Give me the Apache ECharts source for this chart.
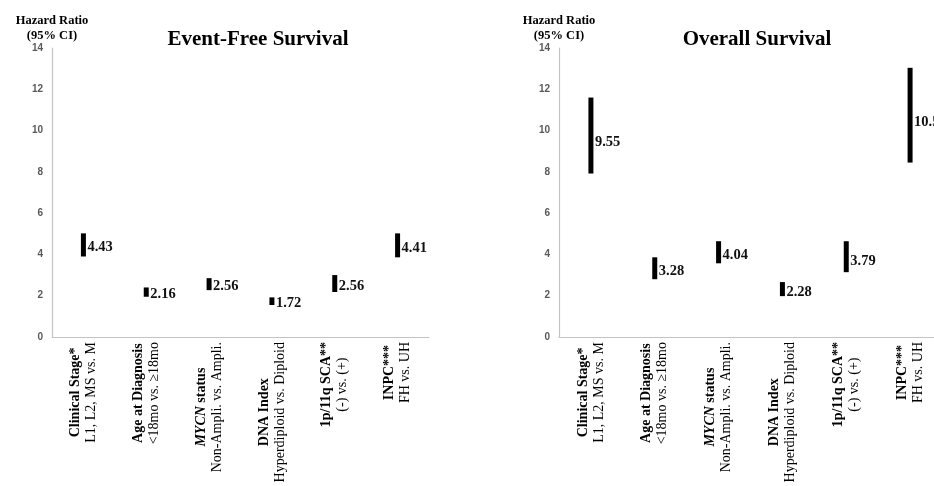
<!DOCTYPE html>
<html>
<head>
<meta charset="utf-8">
<script src="https://cdn.jsdelivr.net/npm/echarts@6/dist/echarts.min.js"></script>
<style>
html,body{margin:0;padding:0;background:#fff;overflow:hidden;}
/* the reference is cropped on the right, so the canvas runs past the window */
#chart{width:960px;height:486px;}
</style>
</head>
<body>
<div id="chart"></div>
<script>
// categories (bold first line / regular second line)
var catTitle = ['Clinical Stage*', 'Age at Diagnosis', 'MYCN status', 'DNA Index', '1p/11q SCA**', 'INPC***'];
var catDetail = ['L1, L2, MS vs. M', '<18mo vs. \u226518mo', 'Non-Ampli. vs. Ampli.', 'Hyperdiploid vs. Diploid', '(-) vs. (+)', 'FH vs. UH'];

// event-free survival: hazard ratio and 95% CI
var efsHR = [4.43, 2.16, 2.56, 1.72, 2.56, 4.41];
var efsLow = [3.90, 1.95, 2.27, 1.55, 2.18, 3.86];
var efsHigh = [5.02, 2.40, 2.85, 1.92, 3.00, 5.02];

// overall survival
var osHR = [9.55, 3.28, 4.04, 2.28, 3.79, 10.5];
var osLow = [7.92, 2.80, 3.57, 1.98, 3.14, 8.45];
var osHigh = [11.60, 3.86, 4.64, 2.66, 4.64, 13.04];

var yTicks = {min: 0, max: 14, interval: 2};

var serif = "'Liberation Serif','Times New Roman',serif";
var chart = echarts.init(document.getElementById('chart'));

function toData(hr, low, high) {
	var d = [];
	for (var i = 0; i < hr.length; i++) {
		d.push([i, low[i], high[i], hr[i]]);
	}
	return d;
}

function catLabel(v, i) {
	var t = catTitle[i];
	var first;
	if (t.indexOf('MYCN') === 0) {
		first = '{bi|MYCN}{b|' + t.substring(4) + '}';
	} else {
		first = '{b|' + t + '}';
	}
	return first + '\n{r|' + catDetail[i] + '}';
}

function renderItem(params, api) {
	var idx = api.value(0);
	var top = api.coord([idx, api.value(2)]);
	var bot = api.coord([idx, api.value(1)]);
	var mid = api.coord([idx, api.value(3)]);
	return {
		type: 'group',
		children: [{
			type: 'rect',
			shape: {x: top[0] - 2.5, y: top[1], width: 5, height: bot[1] - top[1]},
			style: {fill: '#000'}
		}, {
			type: 'text',
			x: top[0] + 4,
			y: mid[1] + 2,
			style: {
				text: api.value(3).toFixed(2),
				fill: '#111',
				font: 'bold 14.5px ' + serif,
				textAlign: 'left',
				textVerticalAlign: 'middle'
			}
		}]
	};
}

function xAxisOpt(gi) {
	return {
		type: 'category',
		gridIndex: gi,
		data: catTitle,
		axisTick: {show: false},
		axisLine: {lineStyle: {color: '#c4c4c4', width: 1.2}},
		axisLabel: {
			rotate: 90,
			interval: 0,
			margin: 5,
			formatter: catLabel,
			rich: {
				b: {fontFamily: serif, fontWeight: 'bold', fontSize: 14, color: '#000', align: 'center', lineHeight: 16},
				bi: {fontFamily: serif, fontWeight: 'bold', fontStyle: 'italic', fontSize: 14, color: '#000', align: 'center', lineHeight: 16},
				r: {fontFamily: serif, fontSize: 14, color: '#000', align: 'center', lineHeight: 16}
			}
		}
	};
}

function yAxisOpt(gi) {
	return {
		type: 'value',
		gridIndex: gi,
		min: yTicks.min,
		max: yTicks.max,
		interval: yTicks.interval,
		name: 'Hazard Ratio\n(95% CI)',
		nameLocation: 'end',
		nameGap: -1,
		nameTextStyle: {fontFamily: serif, fontWeight: 'bold', fontSize: 12.5, color: '#000', lineHeight: 15, align: 'center'},
		splitLine: {show: false},
		axisTick: {show: false},
		axisLine: {show: true, lineStyle: {color: '#c4c4c4', width: 1.2}},
		axisLabel: {margin: 9, fontSize: 10, fontWeight: 'bold', color: '#595959', fontFamily: "'Liberation Sans',Arial,sans-serif"}
	};
}

var option = {
	animation: false,
	title: [{
		text: 'Event-Free Survival',
		left: 258, top: 29, textAlign: 'center', padding: 0,
		textStyle: {fontFamily: serif, fontWeight: 'bold', fontSize: 21, color: '#000'}
	}, {
		text: 'Overall Survival',
		left: 757, top: 29, textAlign: 'center', padding: 0,
		textStyle: {fontFamily: serif, fontWeight: 'bold', fontSize: 21, color: '#000'}
	}],
	grid: [
		{left: 52, top: 48, width: 377, height: 289},
		{left: 559, top: 48, width: 383, height: 289}
	],
	xAxis: [xAxisOpt(0), xAxisOpt(1)],
	yAxis: [yAxisOpt(0), yAxisOpt(1)],
	series: [{
		type: 'custom',
		xAxisIndex: 0, yAxisIndex: 0,
		renderItem: renderItem,
		encode: {x: 0, y: [1, 2]},
		data: toData(efsHR, efsLow, efsHigh)
	}, {
		type: 'custom',
		xAxisIndex: 1, yAxisIndex: 1,
		renderItem: renderItem,
		encode: {x: 0, y: [1, 2]},
		data: toData(osHR, osLow, osHigh)
	}]
};
chart.setOption(option);
</script>
</body>
</html>
